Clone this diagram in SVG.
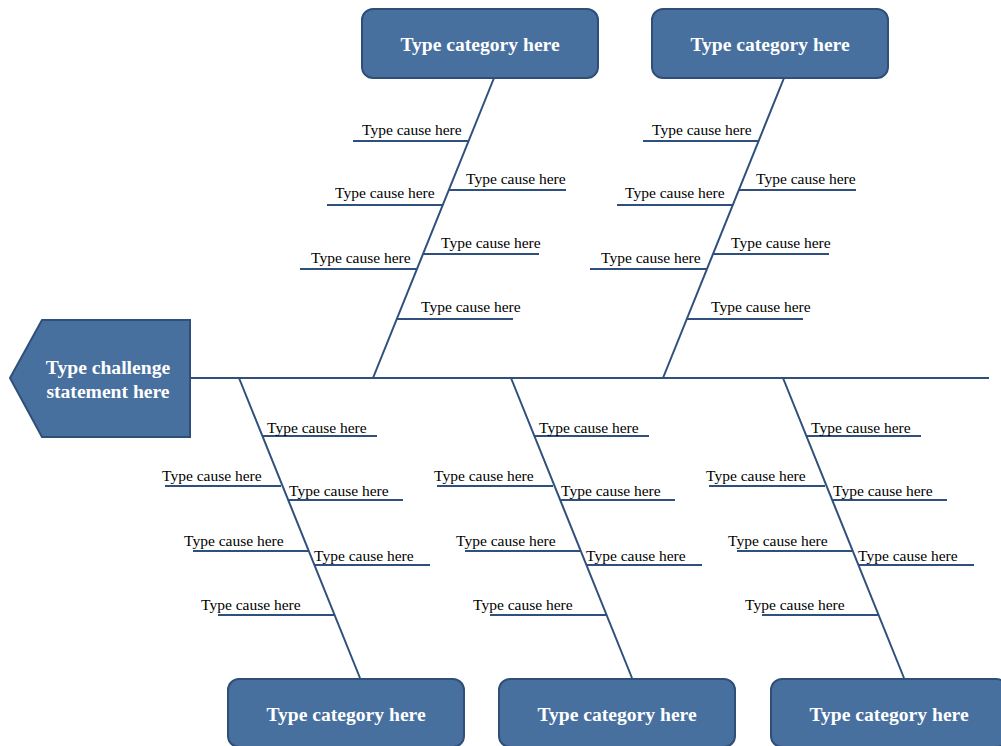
<svg xmlns="http://www.w3.org/2000/svg" width="1001" height="746" viewBox="0 0 1001 746">
<style>
.box{fill:#48709f;stroke:#2f4f78;stroke-width:2}
.ln{stroke:#2f4f7c;stroke-width:2;fill:none}
.cat{font-family:"Liberation Serif",serif;font-weight:bold;font-size:19.6px;fill:#fff;text-anchor:middle}
.c{font-family:"Liberation Serif",serif;font-size:15.5px;fill:#000}
</style>
<rect width="1001" height="746" fill="#fff"/>
<g id="connectors">
<line class="ln" x1="190" y1="378" x2="989" y2="378"/>
<g id="topbone1">
<line class="ln" x1="494" y1="78" x2="373" y2="378"/>
<line class="ln" x1="353" y1="141" x2="469" y2="141"/>
<line class="ln" x1="449" y1="190" x2="566" y2="190"/>
<line class="ln" x1="327" y1="205" x2="443" y2="205"/>
<line class="ln" x1="423" y1="254" x2="539" y2="254"/>
<line class="ln" x1="300" y1="269" x2="417" y2="269"/>
<line class="ln" x1="397" y1="319" x2="513" y2="319"/>
<text class="c" x="362" y="135">Type cause here</text>
<text class="c" x="466" y="184">Type cause here</text>
<text class="c" x="335" y="198">Type cause here</text>
<text class="c" x="441" y="248">Type cause here</text>
<text class="c" x="311" y="263">Type cause here</text>
<text class="c" x="421" y="312">Type cause here</text>
</g>
<g id="topbone2" transform="translate(290,0)">
<line class="ln" x1="494" y1="78" x2="373" y2="378"/>
<line class="ln" x1="353" y1="141" x2="469" y2="141"/>
<line class="ln" x1="449" y1="190" x2="566" y2="190"/>
<line class="ln" x1="327" y1="205" x2="443" y2="205"/>
<line class="ln" x1="423" y1="254" x2="539" y2="254"/>
<line class="ln" x1="300" y1="269" x2="417" y2="269"/>
<line class="ln" x1="397" y1="319" x2="513" y2="319"/>
<text class="c" x="362" y="135">Type cause here</text>
<text class="c" x="466" y="184">Type cause here</text>
<text class="c" x="335" y="198">Type cause here</text>
<text class="c" x="441" y="248">Type cause here</text>
<text class="c" x="311" y="263">Type cause here</text>
<text class="c" x="421" y="312">Type cause here</text>
</g>
<g id="bottombone1">
<line class="ln" x1="239" y1="378" x2="360" y2="678"/>
<line class="ln" x1="263" y1="436" x2="377" y2="436"/>
<line class="ln" x1="165" y1="486" x2="281" y2="486"/>
<line class="ln" x1="288" y1="500" x2="403" y2="500"/>
<line class="ln" x1="193" y1="551" x2="308" y2="551"/>
<line class="ln" x1="315" y1="565" x2="430" y2="565"/>
<line class="ln" x1="218" y1="615" x2="335" y2="615"/>
<text class="c" x="267" y="433">Type cause here</text>
<text class="c" x="162" y="481">Type cause here</text>
<text class="c" x="289" y="496">Type cause here</text>
<text class="c" x="184" y="546">Type cause here</text>
<text class="c" x="314" y="561">Type cause here</text>
<text class="c" x="201" y="610">Type cause here</text>
</g>
<g id="bottombone2" transform="translate(272,0)">
<line class="ln" x1="239" y1="378" x2="360" y2="678"/>
<line class="ln" x1="263" y1="436" x2="377" y2="436"/>
<line class="ln" x1="165" y1="486" x2="281" y2="486"/>
<line class="ln" x1="288" y1="500" x2="403" y2="500"/>
<line class="ln" x1="193" y1="551" x2="308" y2="551"/>
<line class="ln" x1="315" y1="565" x2="430" y2="565"/>
<line class="ln" x1="218" y1="615" x2="335" y2="615"/>
<text class="c" x="267" y="433">Type cause here</text>
<text class="c" x="162" y="481">Type cause here</text>
<text class="c" x="289" y="496">Type cause here</text>
<text class="c" x="184" y="546">Type cause here</text>
<text class="c" x="314" y="561">Type cause here</text>
<text class="c" x="201" y="610">Type cause here</text>
</g>
<g id="bottombone3" transform="translate(544,0)">
<line class="ln" x1="239" y1="378" x2="360" y2="678"/>
<line class="ln" x1="263" y1="436" x2="377" y2="436"/>
<line class="ln" x1="165" y1="486" x2="281" y2="486"/>
<line class="ln" x1="288" y1="500" x2="403" y2="500"/>
<line class="ln" x1="193" y1="551" x2="308" y2="551"/>
<line class="ln" x1="315" y1="565" x2="430" y2="565"/>
<line class="ln" x1="218" y1="615" x2="335" y2="615"/>
<text class="c" x="267" y="433">Type cause here</text>
<text class="c" x="162" y="481">Type cause here</text>
<text class="c" x="289" y="496">Type cause here</text>
<text class="c" x="184" y="546">Type cause here</text>
<text class="c" x="314" y="561">Type cause here</text>
<text class="c" x="201" y="610">Type cause here</text>
</g>
</g>
<g id="head">
<polygon class="box" points="42,320 190,320 190,437 42,437 10,378"/>
<text class="cat" x="108" y="374">Type challenge</text>
<text class="cat" x="108" y="398">statement here</text>
</g>
<g id="cat-top1">
<rect class="box" x="362" y="9" width="236" height="69" rx="11"/>
<text class="cat" x="480" y="51">Type category here</text>
</g>
<g id="cat-top2">
<rect class="box" x="652" y="9" width="236" height="69" rx="11"/>
<text class="cat" x="770" y="51">Type category here</text>
</g>
<g id="cat-bot1">
<rect class="box" x="228" y="679" width="236" height="68" rx="11"/>
<text class="cat" x="346" y="721">Type category here</text>
</g>
<g id="cat-bot2">
<rect class="box" x="499" y="679" width="236" height="68" rx="11"/>
<text class="cat" x="617" y="721">Type category here</text>
</g>
<g id="cat-bot3">
<rect class="box" x="771" y="679" width="236" height="68" rx="11"/>
<text class="cat" x="889" y="721">Type category here</text>
</g>
</svg>
